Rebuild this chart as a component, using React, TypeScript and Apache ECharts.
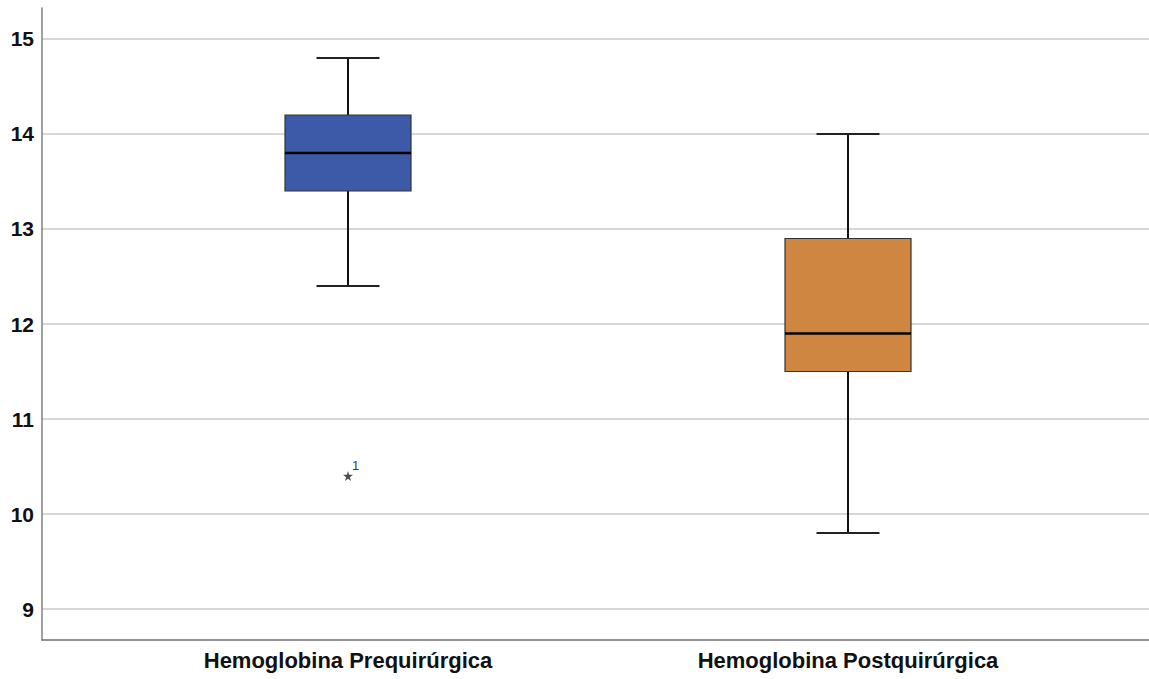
import React, { useEffect, useRef } from "react";
import * as echarts from "echarts";

// Hemoglobin before and after surgery (g/dL), five-number summaries per group
const categories = ["Hemoglobina Prequirúrgica", "Hemoglobina Postquirúrgica"];
const whiskerLow = [12.4, 9.8];
const quartile1 = [13.4, 11.5];
const median = [13.8, 11.9];
const quartile3 = [14.2, 12.9];
const whiskerHigh = [14.8, 14.0];
const boxColors = ["#3D5AA9", "#CE8640"];

// Extreme values: [category index, value, case label]
const extremes: [number, number, string][] = [[0, 10.4, "1"]];

const yTicks = [9, 10, 11, 12, 13, 14, 15];

const STAR =
  "path://M50,0 L61,35 L98,35 L68,57 L79,91 L50,70 L21,91 L32,57 L2,35 L39,35 Z";

const FONT = "Liberation Sans, Arial, sans-serif";

export default function App() {
  const ref = useRef<HTMLDivElement>(null);

  useEffect(() => {
    if (!ref.current) return;
    const chart = echarts.init(ref.current, undefined, { renderer: "svg" });

    const boxData = categories.map((_, i) => [
      i + 1,
      whiskerLow[i],
      quartile1[i],
      median[i],
      quartile3[i],
      whiskerHigh[i],
      i,
    ]);

    const renderBox = (params: any, api: any) => {
      const x = api.value(0);
      const idx = api.value(6);
      const bw = api.size([0.252, 0])[0];
      const capW = bw / 2;
      const pLow = api.coord([x, api.value(1)]);
      const pQ1 = api.coord([x, api.value(2)]);
      const pMed = api.coord([x, api.value(3)]);
      const pQ3 = api.coord([x, api.value(4)]);
      const pHigh = api.coord([x, api.value(5)]);
      const cx = pMed[0];
      const lineStyle = { stroke: "#111", lineWidth: 2 };
      return {
        type: "group",
        children: [
          {
            type: "line",
            shape: { x1: cx, y1: pHigh[1], x2: cx, y2: pQ3[1] },
            style: lineStyle,
          },
          {
            type: "line",
            shape: { x1: cx, y1: pQ1[1], x2: cx, y2: pLow[1] },
            style: lineStyle,
          },
          {
            type: "line",
            shape: { x1: cx - capW / 2, y1: pHigh[1], x2: cx + capW / 2, y2: pHigh[1] },
            style: { stroke: "#222", lineWidth: 2 },
          },
          {
            type: "line",
            shape: { x1: cx - capW / 2, y1: pLow[1], x2: cx + capW / 2, y2: pLow[1] },
            style: { stroke: "#222", lineWidth: 2 },
          },
          {
            type: "rect",
            shape: { x: cx - bw / 2, y: pQ3[1], width: bw, height: pQ1[1] - pQ3[1] },
            style: { fill: boxColors[idx], stroke: "#333", lineWidth: 1.2 },
          },
          {
            type: "line",
            shape: { x1: cx - bw / 2, y1: pMed[1], x2: cx + bw / 2, y2: pMed[1] },
            style: { stroke: "#000", lineWidth: 2.5 },
          },
        ],
      };
    };

    chart.setOption({
      animation: false,
      backgroundColor: "#ffffff",
      grid: {
        left: 42,
        right: 0,
        top: 8,
        bottom: 39,
        containLabel: false,
        outerBoundsMode: "none",
      },
      xAxis: {
        type: "value",
        min: 0.388,
        max: 2.602,
        splitLine: { show: false },
        axisTick: { show: false },
        axisLine: { show: true, onZero: false, lineStyle: { color: "#707070", width: 1.5 } },
        axisLabel: {
          customValues: [1, 2],
          formatter: (v: number) => categories[Math.round(v) - 1] ?? "",
          fontFamily: FONT,
          fontWeight: "bold",
          fontSize: 22,
          color: "#111",
          margin: 9,
        },
      },
      yAxis: {
        type: "value",
        min: 8.674,
        max: 15.326,
        axisLine: { show: true, lineStyle: { color: "#808080", width: 1.5 } },
        axisTick: { show: false, customValues: yTicks },
        axisLabel: {
          customValues: yTicks,
          fontFamily: FONT,
          fontWeight: "bold",
          fontSize: 21,
          color: "#111",
          margin: 8,
        },
        splitLine: { show: true, lineStyle: { color: "#d6d6d6", width: 2 } },
      },
      series: [
        {
          type: "custom",
          renderItem: renderBox,
          data: boxData,
          encode: { x: 0, y: [1, 2, 3, 4, 5] },
          z: 3,
        },
        {
          type: "scatter",
          data: extremes.map(([i, v, lbl]) => ({ value: [i + 1, v], name: lbl })),
          symbol: STAR,
          symbolSize: 10,
          itemStyle: { color: "#222" },
          label: {
            show: true,
            formatter: (p: any) => p.name,
            position: [9, -12],
            fontFamily: FONT,
            fontSize: 13,
            color: "#000",
          },
          z: 4,
        },
      ],
    });

    return () => chart.dispose();
  }, []);

  return (
    <div
      ref={ref}
      style={{ position: "fixed", left: 0, top: 0, width: 1149, height: 679 }}
    />
  );
}
